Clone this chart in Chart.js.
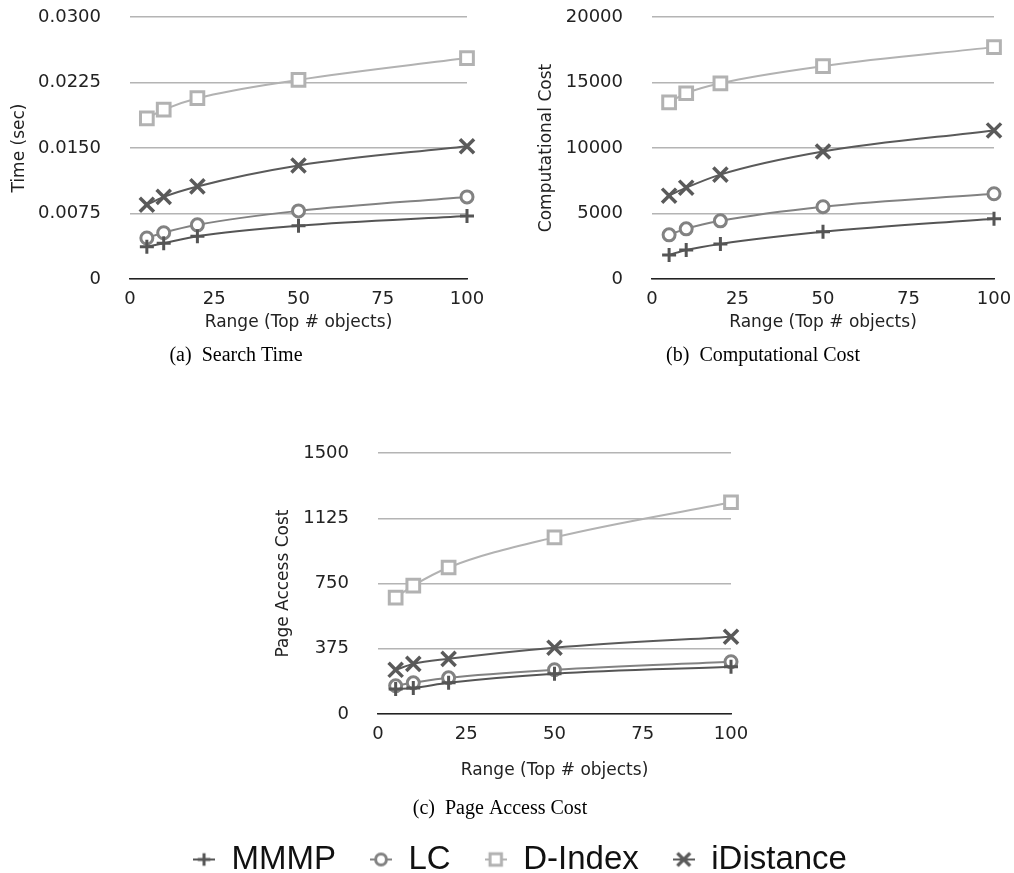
<!DOCTYPE html>
<html>
<head>
<meta charset="utf-8">
<script src="https://cdn.jsdelivr.net/npm/chart.js@4.4.1/dist/chart.umd.min.js"></script>
<style>
body { margin: 0; background: #fff; overflow: hidden; }
canvas { position: absolute; }
</style>
</head>
<body>
<canvas id="chartA" width="500" height="380" style="left:0;top:0"></canvas>
<canvas id="chartB" width="509" height="380" style="left:505px;top:0"></canvas>
<canvas id="chartC" width="520" height="398" style="left:250px;top:435px"></canvas>
<canvas id="legendChart" width="1014" height="260" style="left:0;top:760px"></canvas>
<script>
// Data
var seriesNames = ["MMMP", "LC", "D-Index", "iDistance"];
var rangeValues = [5, 10, 20, 50, 100];
var xTicks = [0, 25, 50, 75, 100];

var timeMMMP = [0.0037, 0.0041, 0.0049, 0.0061, 0.0072];
var timeLC = [0.0047, 0.0053, 0.0062, 0.0078, 0.0094];
var timeDIndex = [0.0184, 0.0194, 0.0207, 0.0228, 0.0253];
var timeIDistance = [0.0085, 0.0094, 0.0106, 0.0130, 0.0152];
var timeTicks = [0, 0.0075, 0.015, 0.0225, 0.03];

var compMMMP = [1840, 2220, 2680, 3600, 4600];
var compLC = [3370, 3830, 4440, 5520, 6510];
var compDIndex = [13490, 14180, 14940, 16250, 17700];
var compIDistance = [6360, 6970, 7970, 9730, 11340];
var compTicks = [0, 5000, 10000, 15000, 20000];

var pageMMMP = [144, 150, 179, 231, 271];
var pageLC = [162, 179, 208, 254, 300];
var pageDIndex = [669, 738, 842, 1015, 1217];
var pageIDistance = [254, 288, 317, 381, 444];
var pageTicks = [0, 375, 750, 1125, 1500];

// Series styles
var styles = [
	{ color: "#555555", pointStyle: "cross", radius: 7, pointWidth: 3 },
	{ color: "#828282", pointStyle: "circle", radius: 6, pointWidth: 3 },
	{ color: "#b2b2b2", pointStyle: "rect", radius: 9, pointWidth: 3 },
	{ color: "#5a5a5a", pointStyle: "crossRot", radius: 10, pointWidth: 3.5 }
];

Chart.defaults.font.family = "DejaVu Sans";
Chart.defaults.color = "#222";
Chart.defaults.animation = false;

function makeDatasets(values) {
	return values.map(function (vals, i) {
		var s = styles[i];
		return {
			label: seriesNames[i],
			data: vals.map(function (v, j) { return { x: rangeValues[j], y: v }; }),
			borderColor: s.color,
			backgroundColor: "#fff",
			borderWidth: 2,
			pointStyle: s.pointStyle,
			pointRadius: s.radius,
			pointBorderWidth: s.pointWidth,
			pointBorderColor: s.color,
			pointBackgroundColor: "#fff",
			cubicInterpolationMode: "monotone",
			clip: false
		};
	});
}

// legend icon: short line with the marker on it
function legendIcon(s) {
	var c = document.createElement("canvas");
	c.width = 22;
	c.height = 24;
	var ctx = c.getContext("2d");
	ctx.strokeStyle = s.color;
	ctx.fillStyle = "#fff";
	ctx.lineWidth = 2;
	ctx.beginPath();
	ctx.moveTo(0, 12);
	ctx.lineTo(22, 12);
	ctx.stroke();
	ctx.lineWidth = s.pointWidth;
	Chart.helpers.drawPoint(ctx, { pointStyle: s.pointStyle, radius: s.radius * 0.9, borderWidth: s.pointWidth, rotation: 0 }, 11, 12);
	return c;
}

function makeChart(id, values, yTicks, yFmt, yTitle, caption, lay) {
	return new Chart(document.getElementById(id).getContext("2d"), {
		type: "line",
		data: { datasets: makeDatasets(values) },
		options: {
			responsive: false,
			devicePixelRatio: 1,
			layout: { padding: lay.padding },
			plugins: {
				legend: { display: false },
				tooltip: { enabled: false },
				title: {
					display: true,
					text: caption,
					position: "bottom",
					color: "#000",
					font: { family: "Liberation Serif", size: 20, weight: "normal" },
					padding: { top: lay.capTop, bottom: 0 }
				}
			},
			scales: {
				x: {
					type: "linear",
					min: 0,
					max: 100,
					afterBuildTicks: function (scale) {
						scale.ticks = xTicks.map(function (v) { return { value: v }; });
					},
					afterFit: function (scale) {
						scale.height = lay.xHeight;
						scale.paddingLeft = 0;
						scale.paddingRight = 0;
					},
					grid: { display: false, drawTicks: false },
					border: { display: true, color: "#222", width: 1.5 },
					ticks: { padding: 10, font: { size: 18 }, maxRotation: 0 },
					title: { display: true, text: "Range (Top # objects)", font: { size: 17 }, padding: { top: 4, bottom: 4 } }
				},
				y: {
					min: 0,
					max: yTicks[yTicks.length - 1],
					afterBuildTicks: function (scale) {
						scale.ticks = yTicks.map(function (v) { return { value: v }; });
					},
					afterFit: function (scale) {
						scale.width = lay.yWidth;
						scale.paddingTop = 0;
						scale.paddingBottom = 0;
					},
					grid: { color: "#b4b4b4", lineWidth: 1.5, drawTicks: false },
					border: { display: false },
					ticks: { padding: 29, font: { size: 18 }, callback: yFmt },
					title: { display: true, text: yTitle, font: { size: 17 }, padding: { top: 4, bottom: 4 } }
				}
			}
		}
	});
}

makeChart("chartA", [timeMMMP, timeLC, timeDIndex, timeIDistance], timeTicks,
	function (v) { return v === 0 ? "0" : v.toFixed(4); },
	"Time (sec)", "(a)  Search Time",
	{ padding: { left: 5, right: 33, top: 17, bottom: 12 }, yWidth: 125, xHeight: 58, capTop: 7 });

makeChart("chartB", [compMMMP, compLC, compDIndex, compIDistance], compTicks,
	function (v) { return String(v); },
	"Computational Cost", "(b)  Computational Cost",
	{ padding: { left: 27, right: 20, top: 17, bottom: 12 }, yWidth: 120, xHeight: 58, capTop: 7 });

makeChart("chartC", [pageMMMP, pageLC, pageDIndex, pageIDistance], pageTicks,
	function (v) { return String(v); },
	"Page Access Cost", "(c)  Page Access Cost",
	{ padding: { left: 19, right: 39, top: 18, bottom: 12 }, yWidth: 109, xHeight: 71, capTop: 12 });

// Shared legend
var legendSets = makeDatasets([[0], [0], [0], [0]]);
legendSets.forEach(function (ds, i) { ds.pointStyle = legendIcon(styles[i]); });

new Chart(document.getElementById("legendChart").getContext("2d"), {
	type: "line",
	data: { datasets: legendSets },
	options: {
		responsive: false,
		devicePixelRatio: 1,
		layout: { padding: { top: 49, left: 26 } },
		scales: { x: { display: false }, y: { display: false } },
		elements: { point: { radius: 0 } },
		plugins: {
			tooltip: { enabled: false },
			legend: {
				display: true,
				position: "top",
				labels: {
					usePointStyle: true,
					pointStyleWidth: 22,
					boxHeight: 14,
					padding: 34,
					color: "#111",
					font: { family: "Liberation Sans", size: 33 }
				}
			}
		}
	}
});
</script>
</body>
</html>
